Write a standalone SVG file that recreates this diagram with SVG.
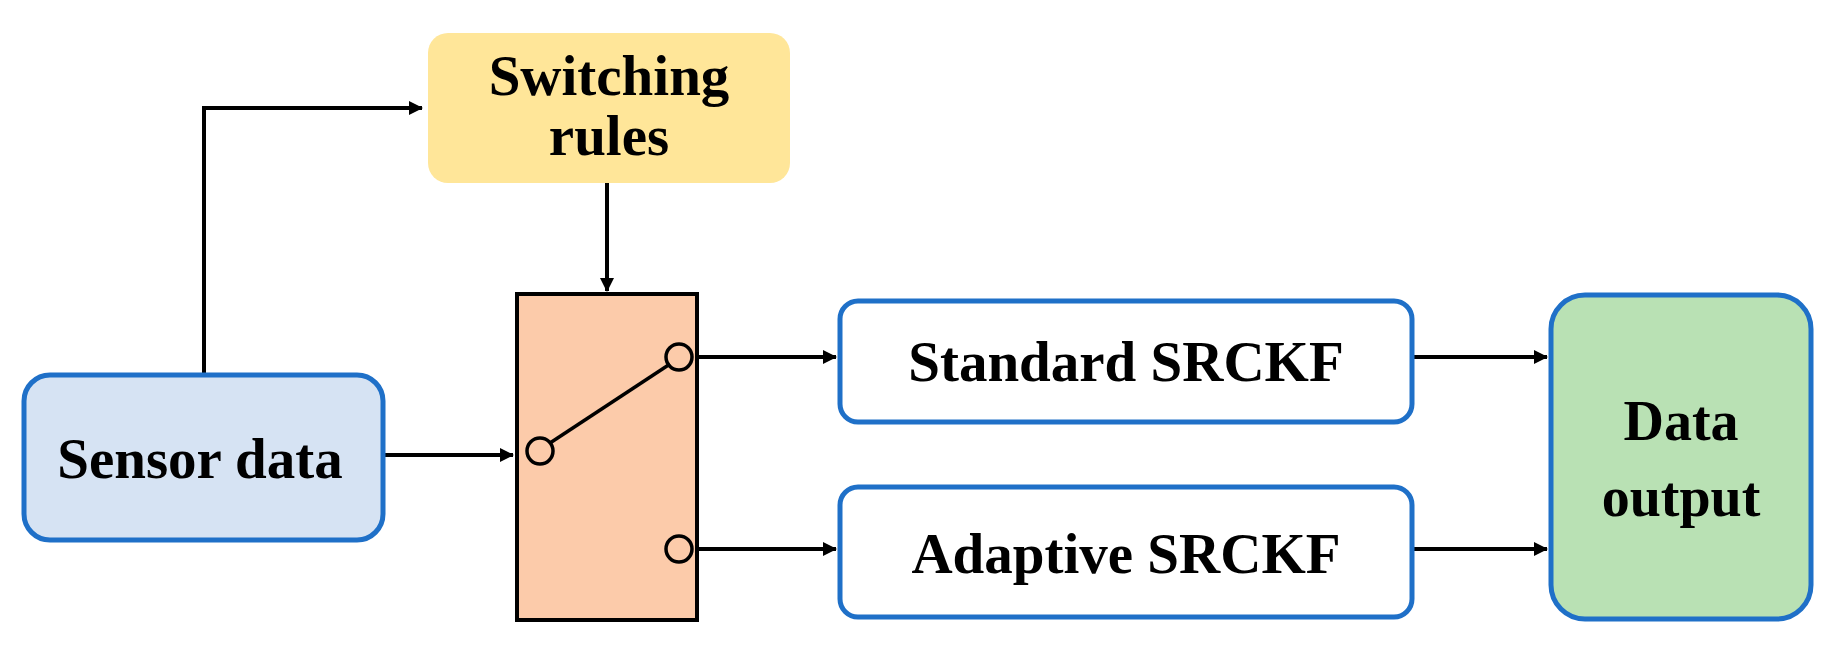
<svg xmlns="http://www.w3.org/2000/svg" width="1840" height="656" viewBox="0 0 1840 656">
<style>
text{font-family:"Liberation Serif",serif;font-weight:bold;font-size:57px;fill:#000;text-anchor:middle}
.b{stroke:#1f70c8;stroke-width:5}
.c{stroke:#000;stroke-width:4;fill:none}
.k{fill:none;stroke:#000;stroke-width:3.5}
</style>
<defs><marker id="a" markerWidth="14" markerHeight="14" refX="13" refY="7" orient="auto" markerUnits="userSpaceOnUse"><path d="M0,0L14,7L0,14z" fill="#000"/></marker></defs>
<rect width="1840" height="656" fill="#fff"/>
<g id="connectors">
<path class="c" d="M204,375V108H422" marker-end="url(#a)"/>
<path class="c" d="M607,183V291" marker-end="url(#a)"/>
<path class="c" d="M383,455H513" marker-end="url(#a)"/>
<path class="c" d="M692,357H836" marker-end="url(#a)"/>
<path class="c" d="M692,549H836" marker-end="url(#a)"/>
<path class="c" d="M1412,357H1547" marker-end="url(#a)"/>
<path class="c" d="M1412,549H1547" marker-end="url(#a)"/>
</g>
<g id="sensor"><rect class="b" x="24" y="375" width="359" height="165" rx="26" fill="#d6e3f3"/><text x="200" y="478">Sensor data</text></g>
<g id="rules"><rect x="428" y="33" width="362" height="150" rx="20" fill="#ffe699"/><text x="609" y="95">Switching</text><text x="609" y="155">rules</text></g>
<g id="switch"><rect x="517" y="294" width="180" height="326" fill="#fccbaa" stroke="#000" stroke-width="4"/>
<line class="k" x1="550" y1="443" x2="670" y2="364"/>
<circle class="k" cx="540" cy="451" r="13" fill="#fccbaa"/><circle class="k" cx="679" cy="357" r="13" fill="#fccbaa"/><circle class="k" cx="679" cy="549" r="13" fill="#fccbaa"/></g>
<g id="standard"><rect class="b" x="840" y="301" width="572" height="121" rx="18" fill="#fff"/><text x="1126" y="381">Standard SRCKF</text></g>
<g id="adaptive"><rect class="b" x="840" y="487" width="572" height="130" rx="18" fill="#fff"/><text x="1126" y="573">Adaptive SRCKF</text></g>
<g id="output"><rect class="b" x="1551" y="295" width="260" height="324" rx="34" fill="#b9e1b4"/><text x="1681" y="440" style="font-size:56px">Data</text><text x="1681" y="516" style="font-size:56px">output</text></g>
</svg>
